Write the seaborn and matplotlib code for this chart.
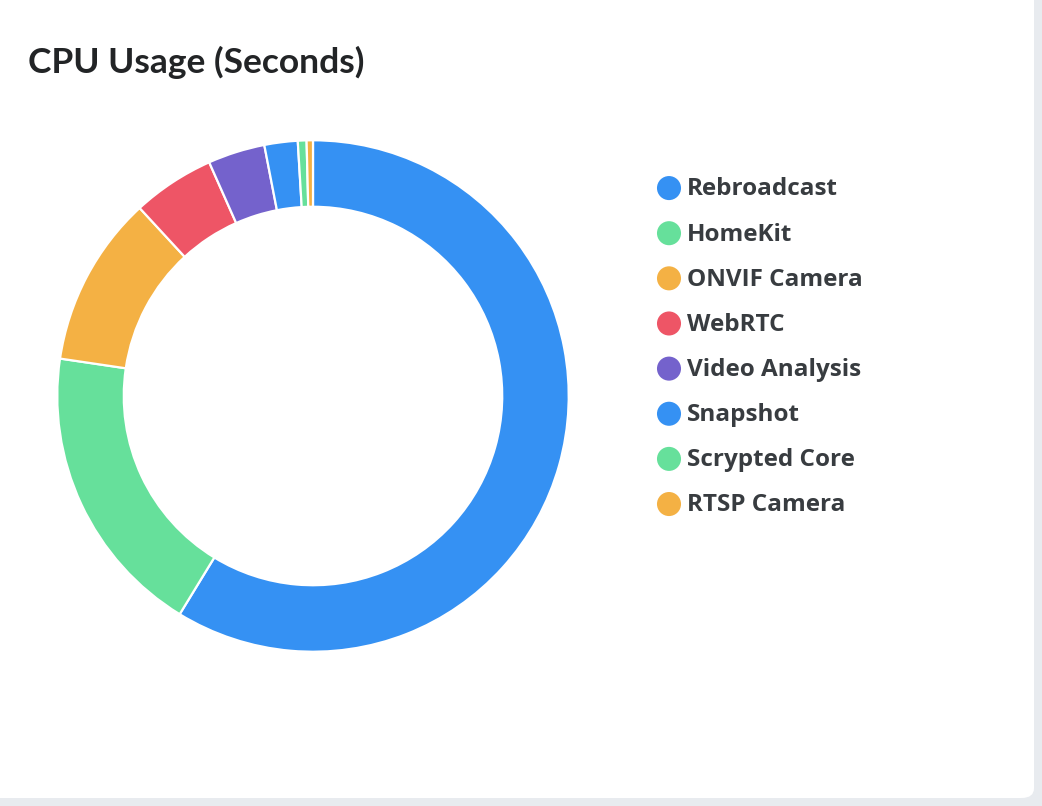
import matplotlib
matplotlib.use("Agg")
import matplotlib.pyplot as plt
from matplotlib.patches import FancyBboxPatch
import seaborn as sns

# ── data ────────────────────────────────────────────
categories = ["Rebroadcast", "HomeKit", "ONVIF Camera", "WebRTC",
              "Video Analysis", "Snapshot", "Scrypted Core", "RTSP Camera"]
cpu_seconds = [58.7, 18.6, 10.8, 5.2, 3.6, 2.1, 0.55, 0.4]
colors = ["#3591f3", "#66e09b", "#f4b144", "#ee5566",
          "#7462cc", "#3591f3", "#66e09b", "#f4b144"]
title = "CPU Usage (Seconds)"

sns.set_theme(style="white")
plt.rcParams["font.family"] = ["Lato", "DejaVu Sans"]

W, H = 1042, 806
fig = plt.figure(figsize=(W / 100, H / 100), dpi=100)
fig.patch.set_facecolor("#e8ebef")

# white card
card = FancyBboxPatch((-20 / W, 8 / H), (1034 + 20) / W, (806 + 20) / H,
                      boxstyle="round,pad=0,rounding_size=0.012",
                      transform=fig.transFigure, facecolor="white",
                      edgecolor="none", zorder=-10)
fig.patches.append(card)

fig.text(28 / W, 1 - 62 / H, title, fontsize=25.5, fontweight="bold",
         color="#222426", va="center", ha="left")

# donut
ax = fig.add_axes([56 / W, 1 - 653 / H, 514 / W, 514 / H])
ax.pie(cpu_seconds, colors=colors, startangle=90, counterclock=False,
       radius=1.0,
       wedgeprops=dict(width=0.26, edgecolor="white", linewidth=1.6))
ax.set_xlim(-1.005, 1.005)
ax.set_ylim(-1.005, 1.005)
ax.set_aspect("equal")
ax.axis("off")

# legend (x axis in pixels from the legend's left edge)
lax = fig.add_axes([650 / W, 1 - 526.6 / H, 300 / W, 361.1 / H])
n = len(categories)
ys = list(range(n))
lax.scatter([19] * n, ys, s=300, c=colors, edgecolors="none")
for y, name in zip(ys, categories):
    lax.text(37, y + 0.03, name, fontsize=17.5, fontweight="bold",
             family=["Open Sans", "DejaVu Sans"],
             color="#383c40", va="center", ha="left")
lax.set_xlim(0, 300)
lax.set_ylim(n - 0.5, -0.5)
lax.axis("off")

fig.savefig("out.png", dpi=100, facecolor=fig.get_facecolor())
